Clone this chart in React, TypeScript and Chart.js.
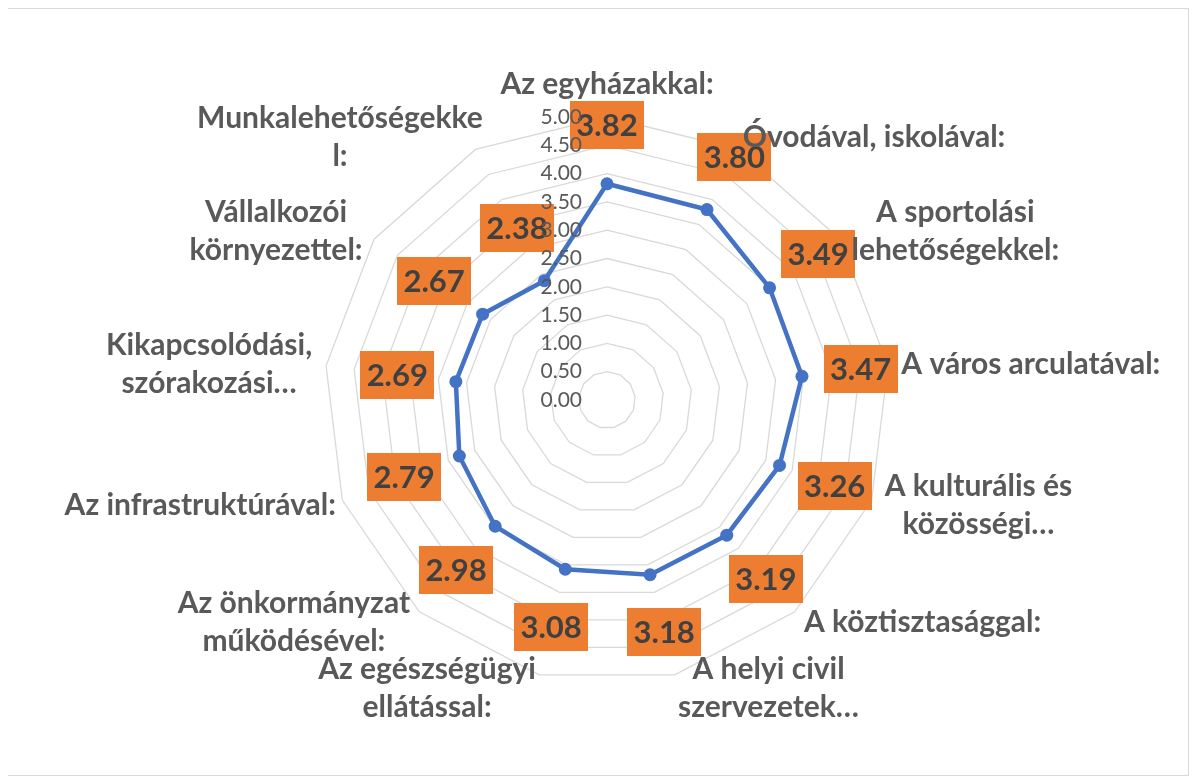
import React, { useEffect, useRef } from "react";
import { Chart, registerables } from "chart.js";

Chart.register(...registerables);

// ---- data ----
const categories: string[][] = [
  ["Az egyházakkal:"],
  ["Óvodával, iskolával:"],
  ["A sportolási", "lehetőségekkel:"],
  ["A város arculatával:"],
  ["A kulturális és", "közösségi…"],
  ["A köztisztasággal:"],
  ["A helyi civil", "szervezetek…"],
  ["Az egészségügyi", "ellátással:"],
  ["Az önkormányzat", "működésével:"],
  ["Az infrastruktúrával:"],
  ["Kikapcsolódási,", "szórakozási…"],
  ["Vállalkozói", "környezettel:"],
  ["Munkalehetőségekke", "l:"],
];
const values: number[] = [3.82, 3.8, 3.49, 3.47, 3.26, 3.19, 3.18, 3.08, 2.98, 2.79, 2.69, 2.67, 2.38];
const tickValues: number[] = [0, 0.5, 1, 1.5, 2, 2.5, 3, 3.5, 4, 4.5, 5];
const tickLabels: string[] = ["0.00", "0.50", "1.00", "1.50", "2.00", "2.50", "3.00", "3.50", "4.00", "4.50", "5.00"];

// ---- style ----
const FONT = "Lato, 'Open Sans', sans-serif";
const CAT_SIZE = 30;
const LINE_H = 38;
const MAX_W = 258;
const LABEL_GAP = 14;
const TICK_SIZE = 21;
const DL_SIZE = 31;
const BOX_W = 74;
const BOX_H = 48;
const DL_OFFSET = 59;

const overlay = {
  id: "overlay",
  afterDatasetsDraw(chart: any) {
    const ctx: CanvasRenderingContext2D = chart.ctx;
    const r = chart.scales.r;
    ctx.save();

    // data label boxes
    values.forEach((v, i) => {
      const p = r.getPointPosition(i, r.getDistanceFromCenterForValue(v) + DL_OFFSET);
      ctx.fillStyle = "#ED7D31";
      ctx.fillRect(Math.round(p.x - BOX_W / 2), Math.round(p.y - BOX_H / 2), BOX_W, BOX_H);
      ctx.fillStyle = "#404040";
      ctx.font = `bold ${DL_SIZE}px ${FONT}`;
      ctx.textAlign = "center";
      ctx.textBaseline = "middle";
      ctx.fillText(v.toFixed(2), p.x, p.y + 1);
    });

    // category labels
    ctx.font = `bold ${CAT_SIZE}px ${FONT}`;
    ctx.fillStyle = "#595959";
    ctx.textBaseline = "middle";
    ctx.textAlign = "center";
    categories.forEach((lines, i) => {
      const p = r.getPointPosition(i, r.drawingArea + LABEL_GAP);
      const ang = r.getIndexAngle(i);
      const s = Math.sin(ang);
      const c = Math.cos(ang);
      const widths = lines.map((l) => ctx.measureText(l).width);
      const bw = Math.min(Math.max(...widths), MAX_W);
      let cx = p.x;
      if (Math.abs(s) > 0.01) cx = s > 0 ? p.x + bw / 2 : p.x - bw / 2;
      const h = lines.length * LINE_H;
      const top = Math.abs(s) <= 0.01 && c > 0 ? p.y - h : p.y - h / 2;
      lines.forEach((l, k) => ctx.fillText(l, cx, top + LINE_H * (k + 0.5)));
    });

    // tick labels
    ctx.font = `${TICK_SIZE}px ${FONT}`;
    ctx.fillStyle = "#595959";
    ctx.textAlign = "right";
    ctx.textBaseline = "middle";
    tickValues.forEach((t, k) => {
      const y = r.yCenter - r.getDistanceFromCenterForValue(t);
      ctx.fillText(tickLabels[k], r.xCenter - 25, y);
    });

    ctx.restore();
  },
};

export default function App() {
  const ref = useRef<HTMLCanvasElement>(null);
  useEffect(() => {
    if (!ref.current) return;
    const chart = new Chart(ref.current, {
      type: "radar",
      data: {
        labels: categories.map((c) => c.join(" ")),
        datasets: [
          {
            data: values,
            borderColor: "#4472C4",
            backgroundColor: "#4472C4",
            borderWidth: 4.5,
            pointRadius: 6.5,
            pointBackgroundColor: "#4472C4",
            pointBorderColor: "#4472C4",
            pointBorderWidth: 0,
            fill: false,
            tension: 0,
          },
        ],
      },
      options: {
        animation: false,
        responsive: true,
        maintainAspectRatio: false,
        layout: { padding: { top: 108, bottom: 92, left: 316, right: 298 } },
        plugins: { legend: { display: false }, tooltip: { enabled: false } },
        scales: {
          r: {
            min: 0,
            max: 5,
            ticks: { stepSize: 0.5, display: false },
            grid: { color: "#D9D9D9", lineWidth: 1.3 },
            angleLines: { display: false },
            pointLabels: { display: false },
          },
        },
      },
      plugins: [overlay],
    });
    return () => chart.destroy();
  }, []);
  return (
    <div
      style={{
        position: "relative",
        width: 1182,
        height: 768,
        marginLeft: -1,
        border: "1px solid #D9D9D9",
        boxSizing: "border-box",
        background: "#fff",
      }}
    >
      <canvas ref={ref} />
    </div>
  );
}
